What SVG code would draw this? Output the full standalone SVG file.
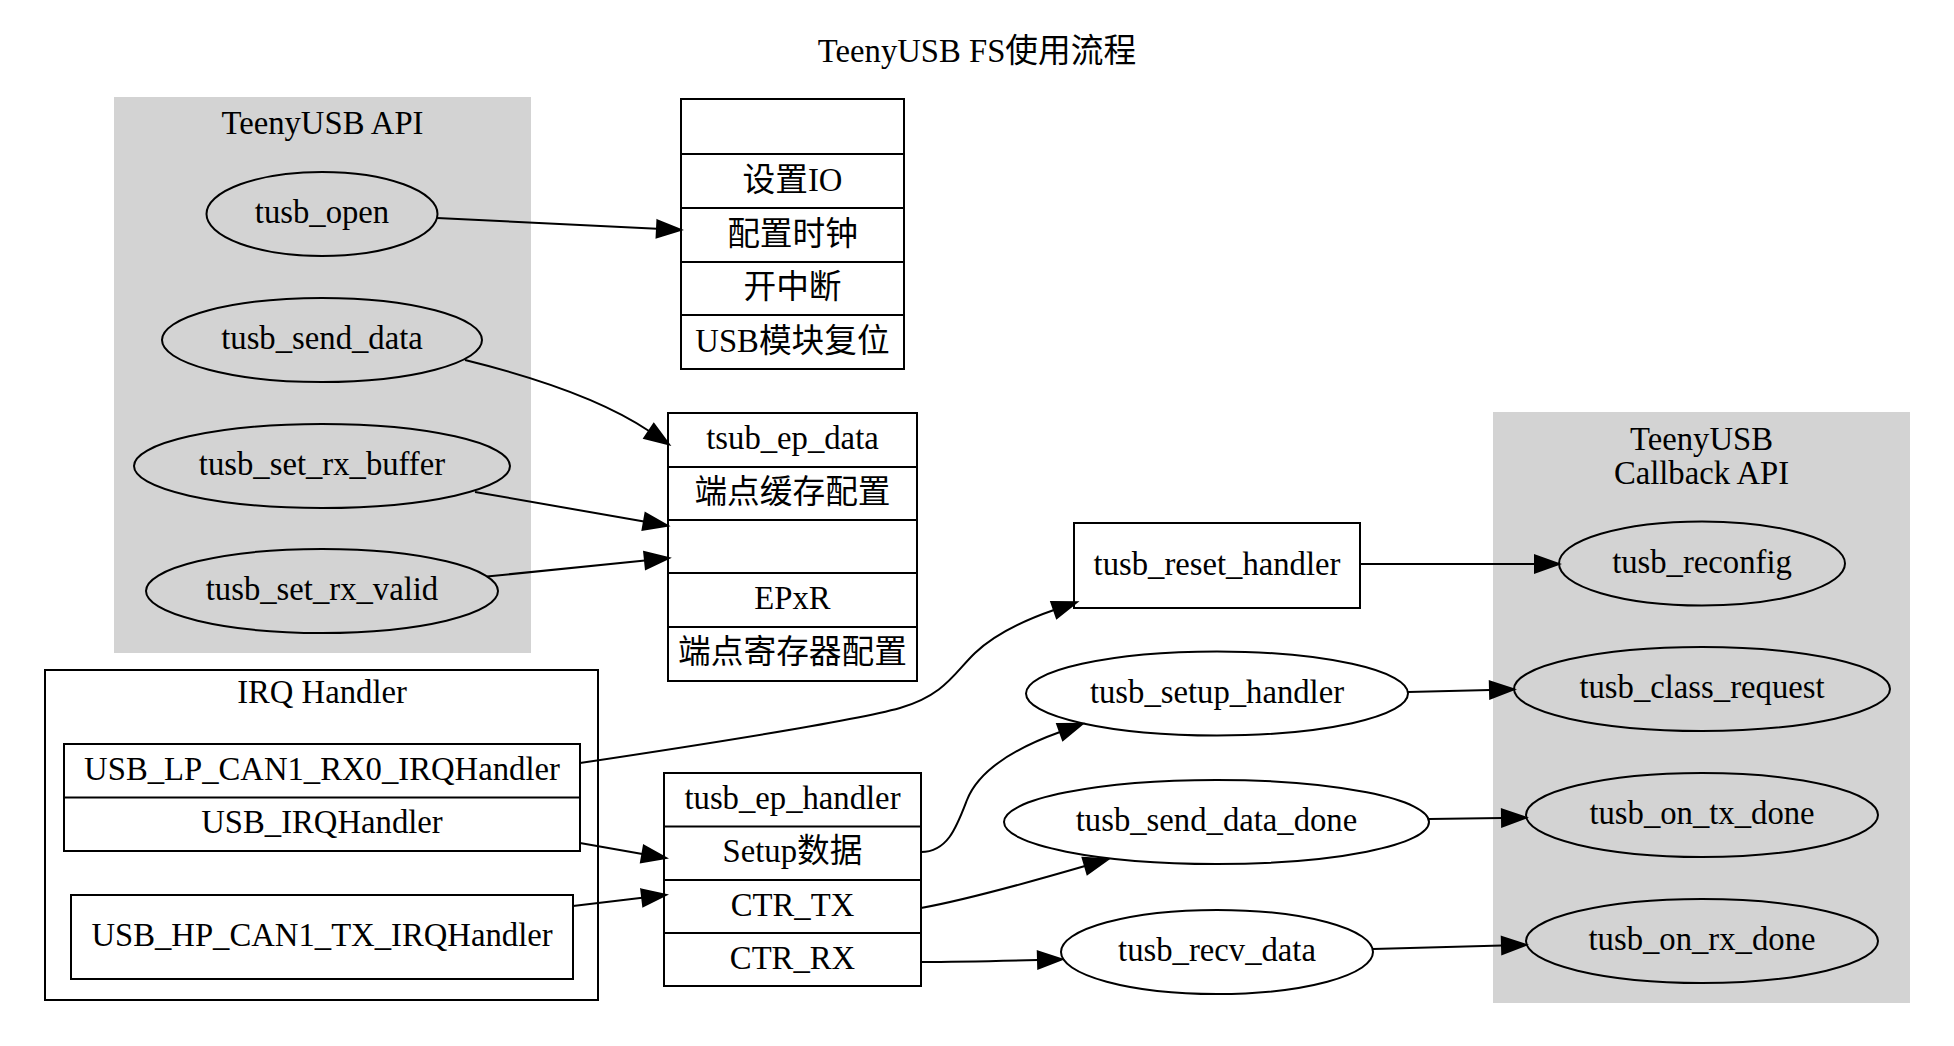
<svg xmlns="http://www.w3.org/2000/svg" width="1954" height="1046" viewBox="0 0 1954 1046">
<defs>
<style>
text{font-family:"Liberation Serif","Noto Sans CJK SC",serif;font-size:32.7px;text-anchor:middle;fill:#000}
.cl{fill:#d3d3d3;stroke:#d3d3d3;stroke-width:2}
.box{fill:#fff;stroke:#000;stroke-width:2}
.gel{fill:#d3d3d3;stroke:#000;stroke-width:2}
.wel{fill:#fff;stroke:#000;stroke-width:2}
.ln{fill:none;stroke:#000;stroke-width:2}
.e{fill:none;stroke:#000;stroke-width:2;marker-end:url(#ah)}
</style>
<marker id="ah" markerUnits="userSpaceOnUse" markerWidth="30" markerHeight="24" refX="2" refY="12" orient="auto" viewBox="0 0 30 24" overflow="visible">
<path d="M2,3.5 L26,12 L2,20.5 Z" fill="#000" stroke="#000" stroke-width="2"/>
</marker>
</defs>
<rect width="1954" height="1046" fill="#fff"/>
<text x="977" y="62">TeenyUSB FS使用流程</text>

<g id="cluster_api">
<rect class="cl" x="115" y="98" width="415" height="554"/>
<text x="322.5" y="134">TeenyUSB API</text>
</g>
<g id="cluster_irq">
<rect x="45" y="670" width="553" height="330" fill="none" stroke="#000" stroke-width="2"/>
<text x="322" y="703">IRQ Handler</text>
</g>
<g id="cluster_cb">
<rect class="cl" x="1494" y="413" width="415" height="589"/>
<text x="1701.5" y="450">TeenyUSB</text>
<text x="1701.5" y="484">Callback API</text>
</g>

<g id="tusb_open">
<ellipse class="gel" cx="322" cy="214" rx="115.5" ry="42"/>
<text x="322" y="223">tusb_open</text>
</g>
<g id="tusb_send_data">
<ellipse class="gel" cx="322" cy="340" rx="160" ry="42"/>
<text x="322" y="349">tusb_send_data</text>
</g>
<g id="tusb_set_rx_buffer">
<ellipse class="gel" cx="322" cy="466" rx="188" ry="42"/>
<text x="322" y="475">tusb_set_rx_buffer</text>
</g>
<g id="tusb_set_rx_valid">
<ellipse class="gel" cx="322" cy="591" rx="176" ry="42"/>
<text x="322" y="600">tusb_set_rx_valid</text>
</g>

<g id="init_record">
<rect class="box" x="681" y="99" width="223" height="270"/>
<path class="ln" d="M681,154H904M681,208H904M681,262H904M681,315H904"/>
<text x="792.5" y="190.5">设置IO</text>
<text x="792.5" y="244.5">配置时钟</text>
<text x="792.5" y="298">开中断</text>
<text x="792.5" y="351.5">USB模块复位</text>
</g>

<g id="ep_data_record">
<rect class="box" x="668" y="413" width="249" height="268"/>
<path class="ln" d="M668,467H917M668,520H917M668,573H917M668,627H917"/>
<text x="792.5" y="449">tsub_ep_data</text>
<text x="792.5" y="502.5">端点缓存配置</text>
<text x="792.5" y="609">EPxR</text>
<text x="792.5" y="663">端点寄存器配置</text>
</g>

<g id="irq_record">
<rect class="box" x="64" y="744" width="516" height="107"/>
<path class="ln" d="M64,797.5H580"/>
<text x="322" y="779.5">USB_LP_CAN1_RX0_IRQHandler</text>
<text x="322" y="833">USB_IRQHandler</text>
</g>
<g id="usb_hp">
<rect class="box" x="71" y="895" width="502" height="84"/>
<text x="322" y="946">USB_HP_CAN1_TX_IRQHandler</text>
</g>

<g id="ep_handler_record">
<rect class="box" x="664" y="773" width="257" height="213"/>
<path class="ln" d="M664,826.5H921M664,880H921M664,933H921"/>
<text x="792.5" y="809">tusb_ep_handler</text>
<text x="792.5" y="862">Setup数据</text>
<text x="792.5" y="916">CTR_TX</text>
<text x="792.5" y="969">CTR_RX</text>
</g>

<g id="tusb_reset_handler">
<rect class="box" x="1074" y="523" width="286" height="85"/>
<text x="1217" y="574.5">tusb_reset_handler</text>
</g>
<g id="tusb_setup_handler">
<ellipse class="wel" cx="1217" cy="693.5" rx="191" ry="42"/>
<text x="1217" y="702.5">tusb_setup_handler</text>
</g>
<g id="tusb_send_data_done">
<ellipse class="wel" cx="1216.5" cy="822" rx="212.5" ry="42"/>
<text x="1216.5" y="831">tusb_send_data_done</text>
</g>
<g id="tusb_recv_data">
<ellipse class="wel" cx="1217" cy="952" rx="156" ry="42"/>
<text x="1217" y="961">tusb_recv_data</text>
</g>

<g id="tusb_reconfig">
<ellipse class="gel" cx="1702" cy="563.5" rx="143" ry="42"/>
<text x="1702" y="572.5">tusb_reconfig</text>
</g>
<g id="tusb_class_request">
<ellipse class="gel" cx="1702" cy="689" rx="188" ry="42"/>
<text x="1702" y="698">tusb_class_request</text>
</g>
<g id="tusb_on_tx_done">
<ellipse class="gel" cx="1702" cy="815" rx="176" ry="42"/>
<text x="1702" y="824">tusb_on_tx_done</text>
</g>
<g id="tusb_on_rx_done">
<ellipse class="gel" cx="1702" cy="941" rx="176" ry="42"/>
<text x="1702" y="950">tusb_on_rx_done</text>
</g>

<g id="edges">
<path class="e" d="M437,218 L657,228.8"/>
<path class="e" d="M465,360 C530,376 600,398 649,431"/>
<path class="e" d="M475,492 L644,521.5"/>
<path class="e" d="M487,576.5 L645,560.5"/>
<path class="e" d="M580,763 C700,745 850,722 900,708 C945,695 955,672 975,653 C995,634 1025,620 1054,610"/>
<path class="e" d="M580,843 L642.4,853.9"/>
<path class="e" d="M573,906 L642.2,897.8"/>
<path class="e" d="M921,852 C948,852 957,826 967,800 C978,772 1010,750 1060,732"/>
<path class="e" d="M921,908 C965,900 1030,882 1085,866"/>
<path class="e" d="M921,962 C960,962 1000,961 1038,960"/>
<path class="e" d="M1360,564 L1535,564"/>
<path class="e" d="M1408,692 L1490,690"/>
<path class="e" d="M1429,819 L1502,818"/>
<path class="e" d="M1373,949 L1502,945.5"/>
</g>
</svg>
